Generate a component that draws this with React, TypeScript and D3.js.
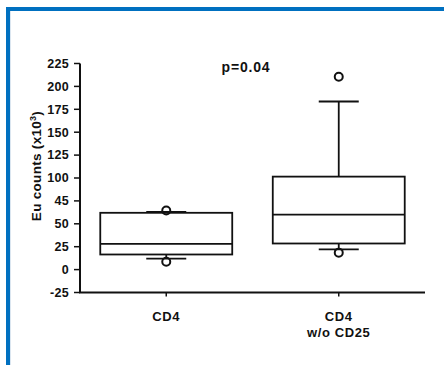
import React from 'react';
import * as d3 from 'd3';

const categories = ['CD4', 'CD4\nw/o CD25'];
const whiskerLow = [12, 22];
const q1 = [16.5, 28.5];
const median = [28, 60];
const q3 = [62, 101.5];
const whiskerHigh = [63, 183.5];
const outliers = [[64.5, 8.5], [210.5, 18.5]];
const yTicks = [-25, 0, 25, 50, 75, 100, 125, 150, 175, 200, 225];
const yTickLabels = ['-25', '0', '25', '50', '45', '100', '125', '150', '175', '200', '225'];
const pLabel = 'p=0.04';

const W = 444;
const H = 365;
const font = '"Liberation Sans", Arial, sans-serif';

export default function App() {
  const x = d3.scalePoint<string>().domain(categories).range([80, 425]).padding(0.5);
  const y = d3.scaleLinear().domain([-25, 225]).range([292.5, 63.5]);
  const boxW = x.step() * 0.765;
  const capW = 40;

  return (
    <div style={{ position: 'fixed', left: 0, top: 0 }}>
      <svg width={W} height={H} style={{ display: 'block', background: '#fff' }}>
        {/* frame */}
        <rect x={6} y={7} width={W} height={4} fill="#0070c0" />
        <rect x={6} y={7} width={4} height={H} fill="#0070c0" />
        <rect x={10} y={11} width={1} height={H} fill="#dbe6f0" />

        {/* y axis */}
        <line x1={80} x2={80} y1={y(225)} y2={y(-25)} stroke="#111" strokeWidth={2} />
        {yTicks.map((t, i) => (
          <g key={t}>
            <line x1={74} x2={80} y1={y(t)} y2={y(t)} stroke="#111" strokeWidth={1.5} />
            <text x={69} y={y(t)} dy="0.35em" textAnchor="end" fontFamily={font}
              fontWeight="bold" fontSize={12.5} letterSpacing={0.3} fill="#111">{yTickLabels[i]}</text>
          </g>
        ))}
        <text transform={`translate(41,166) rotate(-90)`} textAnchor="middle"
          fontFamily={font} fontWeight="bold" fontSize={13.5} letterSpacing={0.3} fill="#111">
          Eu counts (x10<tspan dy="-5" fontSize={9}>3</tspan><tspan dy="5">)</tspan>
        </text>

        {/* x axis */}
        <line x1={79} x2={425} y1={y(-25)} y2={y(-25)} stroke="#111" strokeWidth={2} />
        {categories.map((c) => (
          <g key={c}>
            <line x1={x(c)} x2={x(c)} y1={y(-25)} y2={y(-25) + 4} stroke="#111" strokeWidth={1.5} />
            {c.split('\n').map((line, j) => (
              <text key={j} x={x(c)} y={321 + j * 16} textAnchor="middle"
                fontFamily={font} fontWeight="bold" fontSize={13} letterSpacing={0.6} fill="#111">{line}</text>
            ))}
          </g>
        ))}

        {/* boxes */}
        {categories.map((c, i) => {
          const cx = x(c) as number;
          return (
            <g key={c} stroke="#111" fill="none" strokeWidth={1.8}>
              <line x1={cx} x2={cx} y1={y(q3[i])} y2={y(whiskerHigh[i])} />
              <line x1={cx} x2={cx} y1={y(q1[i])} y2={y(whiskerLow[i])} />
              <line x1={cx - capW / 2} x2={cx + capW / 2} y1={y(whiskerHigh[i])} y2={y(whiskerHigh[i])} />
              <line x1={cx - capW / 2} x2={cx + capW / 2} y1={y(whiskerLow[i])} y2={y(whiskerLow[i])} />
              <rect x={cx - boxW / 2} y={y(q3[i])} width={boxW} height={y(q1[i]) - y(q3[i])} fill="#fff" />
              <line x1={cx - boxW / 2} x2={cx + boxW / 2} y1={y(median[i])} y2={y(median[i])} />
              {outliers[i].map((o, k) => (
                <circle key={k} cx={cx} cy={y(o)} r={4} strokeWidth={2} fill="none" />
              ))}
            </g>
          );
        })}

        <text x={246} y={72} textAnchor="middle" fontFamily={font} fontWeight="bold"
          fontSize={14} letterSpacing={0.8} fill="#111">{pLabel}</text>
      </svg>
    </div>
  );
}
